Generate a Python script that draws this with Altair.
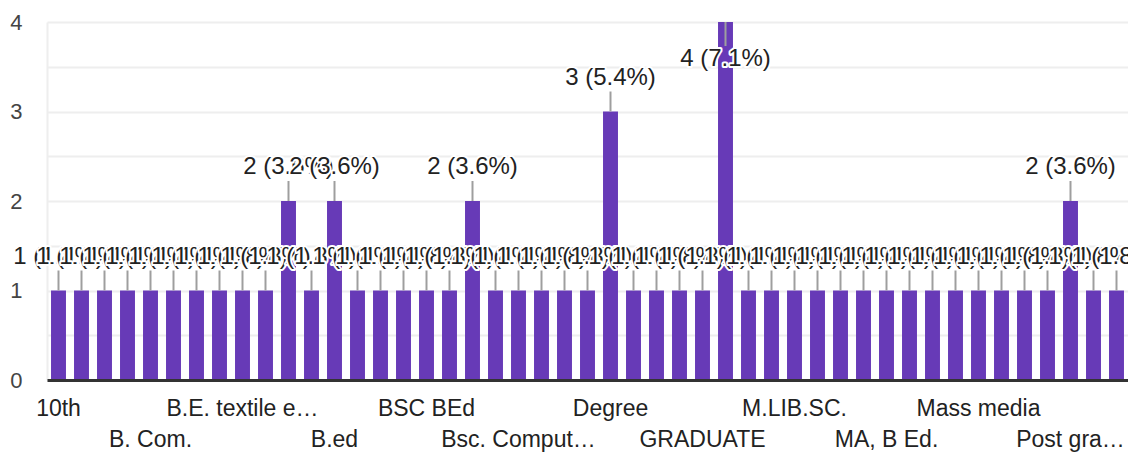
import altair as alt
import pandas as pd
import json

categories = [
    "10th", "12th", "B. A.", "B. A. B. Ed.", "B. Com.", "B. Ed.", "B. Sc.", "B.A.",
    "B.E. textile engineering", "B.Ed.", "B.Sc", "B.Tech", "B.ed", "B.sc", "BA", "BA B.Ed",
    "BSC BEd", "BSc", "BTech", "Bachelor", "Bsc. Computer Science", "D.Ed", "D.El.Ed", "DEd",
    "Degree", "Diploma", "Engineer", "Engineering", "GRADUATE", "Graduate", "Graduation", "HSC",
    "M.LIB.SC.", "M.Sc", "M.com", "MA", "MA, B Ed.", "MBA", "MCA", "MSc",
    "Mass media", "Masters", "PG", "Ph.D", "Post graduation", "Postgraduate", "SSC",
]
counts = [
    1, 1, 1, 1, 1, 1, 1, 1,
    1, 1, 2, 1, 2, 1, 1, 1,
    1, 1, 2, 1, 1, 1, 1, 1,
    3, 1, 1, 1, 1, 4, 1, 1,
    1, 1, 1, 1, 1, 1, 1, 1,
    1, 1, 1, 1, 2, 1, 1,
]
# categories whose tick label is shown, with the text shown (row 1 / row 2 alternate)
tick_categories = ["10th", "B. Com.", "B.E. textile engineering", "B.ed", "BSC BEd",
                   "Bsc. Computer Science", "Degree", "GRADUATE", "M.LIB.SC.", "MA, B Ed.",
                   "Mass media", "Post graduation"]
tick_labels = ["10th", "B. Com.", "B.E. textile e…", "B.ed", "BSC BEd", "Bsc. Comput…",
               "Degree", "GRADUATE", "M.LIB.SC.", "MA, B Ed.", "Mass media", "Post gra…"]
y_values = [0, 0.5, 1, 1.5, 2, 2.5, 3, 3.5, 4]

total = sum(counts)
ymax = max(counts)
df = pd.DataFrame({"category": categories, "count": counts})
df["label"] = [f"{c} ({c / total * 100:.1f}%)" for c in counts]

FONT = "Liberation Sans"
PURPLE = "#673ab7"

keys_js = json.dumps(tick_categories)
labs_js = json.dumps(tick_labels)
row2_js = json.dumps(tick_categories[1::2])
label_expr = (
    f"indexof({keys_js}, datum.value) < 0 ? '' : "
    f"(indexof({row2_js}, datum.value) >= 0 ? ['', {labs_js}[indexof({keys_js}, datum.value)]] "
    f": {labs_js}[indexof({keys_js}, datum.value)])"
)

X = alt.X(
    "category:N", sort=categories, title=None,
    scale=alt.Scale(paddingInner=0.35, paddingOuter=0.175),
    axis=alt.Axis(
        labelExpr=label_expr, labelAngle=0, labelFont=FONT, labelFontSize=23,
        labelColor="#222222", labelPadding=17, labelLineHeight=31, labelLimit=0,
        ticks=False, tickSize=0, grid=False, domainColor="#333333", domainWidth=3,
        zindex=1,
    ),
)
Y = alt.Y(
    "count:Q", title=None,
    scale=alt.Scale(domain=[0, ymax], nice=False),
    axis=alt.Axis(
        values=y_values,
        labelExpr="datum.value % 1 == 0 ? format(datum.value, 'd') : ''",
        labelFont=FONT, labelFontSize=22, labelColor="#444444", labelPadding=25,
        ticks=False, tickSize=0, gridColor="#eeeeee", gridWidth=2,
        domainColor="#eeeeee", domainWidth=2,
    ),
)

base = alt.Chart(df)

bars = base.mark_bar(color=PURPLE).encode(x=X, y=Y)

stems = base.mark_rule(color="#9e9e9e", strokeWidth=2, y2Offset=-20).encode(
    x=X, y=Y, y2=alt.Y2("count:Q")
).transform_filter(f"datum.count < {ymax}")

stems_top = base.mark_rule(color="#9e9e9e", strokeWidth=2, y2Offset=24).encode(
    x=X, y=Y, y2=alt.Y2("count:Q")
).transform_filter(f"datum.count >= {ymax}")

layers = [bars, stems, stems_top]
for cat, c in zip(categories, counts):
    dy = -34 if c < ymax else 37
    sel = base.transform_filter(alt.FieldEqualPredicate(field="category", equal=cat))
    halo = sel.mark_text(
        dy=dy, font=FONT, fontSize=24, fill="white", stroke="white",
        strokeWidth=4, strokeJoin="round", baseline="middle",
    ).encode(x=X, y=Y, text="label:N")
    txt = sel.mark_text(
        dy=dy, font=FONT, fontSize=24, fill="#222222", baseline="middle",
    ).encode(x=X, y=Y, text="label:N")
    layers += [halo, txt]

chart = alt.layer(*layers).properties(
    width=1081, height=358,
    autosize=alt.AutoSizeParams(type="none"),
    padding={"left": 39, "top": 14, "right": 0, "bottom": 72},
    background="white",
).configure_view(stroke=None)

chart.save("out.html", embed_options={"renderer": "svg", "actions": False})
